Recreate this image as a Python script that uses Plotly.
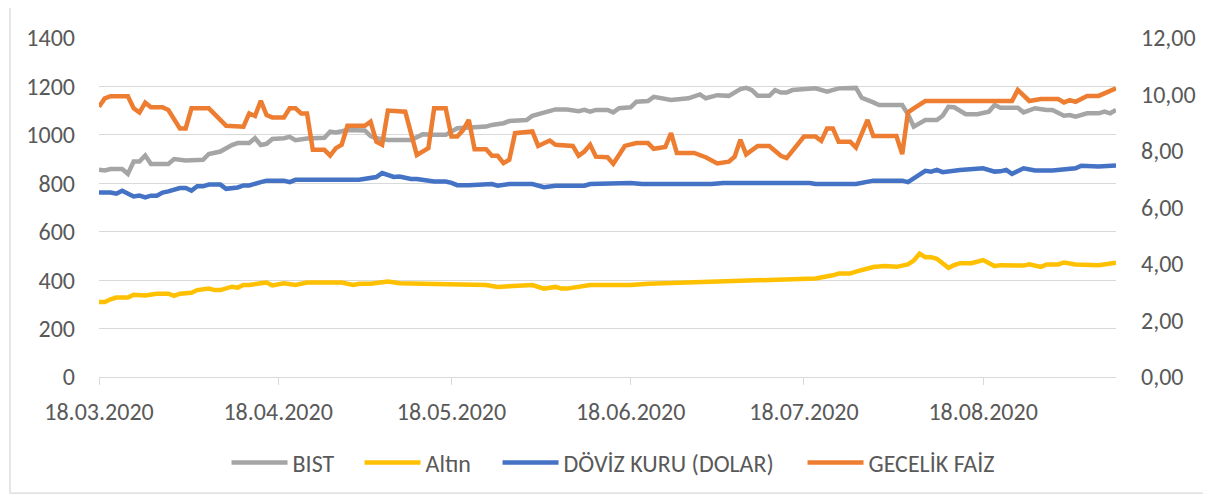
import pandas as pd
import plotly.graph_objects as go

YEAR = "2020"

# ---- BIST (left axis) ----
bist_dates = ["18.03","19.03","20.03","22.03","23.03","24.03","25.03","26.03","27.03","30.03","31.03",
              "02.04","05.04","06.04","08.04","10.04","11.04","13.04","14.04","15.04","16.04","17.04",
              "19.04","20.04","21.04","23.04","26.04","27.04","28.04","30.04",
              "03.05","04.05","05.05","07.05","11.05","12.05","13.05","15.05","17.05","19.05","24.05",
              "25.05","27.05","28.05","31.05",
              "01.06","03.06","05.06","07.06","09.06","10.06","11.06","12.06","14.06","15.06","16.06",
              "18.06","19.06","21.06","22.06","25.06","27.06","28.06","30.06",
              "01.07","03.07","05.07","07.07","08.07","09.07","10.07","12.07","13.07","14.07","15.07",
              "16.07","20.07","22.07","24.07","27.07","28.07","30.07","31.07",
              "04.08","05.08","06.08","08.08","10.08","11.08","12.08","13.08","15.08","17.08","19.08",
              "20.08","21.08","24.08","25.08","27.08","29.08","30.08",
              "01.09","02.09","03.09","05.09","07.09","08.09","09.09","10.09"]
bist_values = [856,853,859,859,839,890,890,915,880,880,900,
               894,897,921,931,958,966,966,986,958,963,983,
               986,992,978,985,988,1013,1010,1020,
               1018,995,986,979,979,993,1002,1000,1000,1027,1034,
               1041,1048,1057,1061,
               1079,1093,1105,1105,1098,1103,1096,1103,1103,1093,1110,
               1114,1137,1140,1157,1144,1151,1151,1167,
               1151,1164,1161,1189,1194,1185,1161,1161,1185,1175,1175,
               1185,1192,1178,1192,1194,1153,1134,1123,
               1123,1085,1034,1061,1061,1079,1116,1114,1085,1085,1096,
               1123,1112,1112,1093,1110,1103,1103,
               1079,1082,1075,1089,1089,1096,1089,1103]

# ---- Altın (left axis) ----
altin_dates = ["18.03","19.03","20.03","21.03","23.03","24.03","26.03","28.03","30.03","31.03",
               "01.04","03.04","04.04","06.04","07.04","08.04","10.04","11.04","12.04","13.04",
               "15.04","16.04","17.04","19.04","21.04","23.04","29.04",
               "01.05","02.05","04.05","07.05","09.05","13.05","18.05","19.05","24.05","26.05","29.05",
               "01.06","03.06","05.06","06.06","07.06","11.06","13.06","18.06","21.06","24.06","29.06",
               "01.07","02.07","06.07","09.07","14.07","17.07","20.07","23.07","24.07","26.07","27.07","30.07",
               "01.08","03.08","05.08","06.08","07.08","08.08","09.08","10.08","12.08","13.08","14.08",
               "16.08","18.08","20.08","21.08","25.08","26.08","28.08","29.08","31.08",
               "01.09","03.09","07.09","10.09"]
altin_values = [310,310,321,328,328,340,337,344,344,335,
                344,348,359,365,359,359,373,369,380,380,
                387,390,378,387,380,390,390,
                380,385,385,394,387,385,383,380,380,372,376,
                380,365,372,365,365,380,379,380,385,387,390,
                390,394,394,400,403,403,407,420,427,427,435,454,
                458,455,465,481,509,495,495,488,451,462,470,
                470,483,458,462,460,465,455,465,465,
                473,465,462,472]

# ---- Döviz kuru (right axis) ----
doviz_dates = ["18.03","20.03","21.03","22.03","24.03","25.03","26.03","27.03","28.03","29.03","30.03",
               "01.04","02.04","03.04","04.04","05.04","06.04","08.04","09.04","11.04","12.04","13.04",
               "15.04","16.04","19.04","20.04","21.04","22.04","24.04","27.04","30.04",
               "02.05","05.05","06.05","08.05","09.05","11.05","12.05","15.05","17.05","18.05","19.05",
               "21.05","23.05","25.05","26.05","28.05",
               "01.06","03.06","05.06","10.06","11.06","18.06","20.06",
               "02.07","04.07","19.07","20.07","27.07","30.07",
               "04.08","05.08","06.08","08.08","09.08","10.08","11.08","14.08","18.08","20.08","21.08",
               "22.08","23.08","25.08","27.08","30.08",
               "03.09","04.09","07.09","10.09"]
doviz_values = [6.53,6.53,6.49,6.59,6.39,6.42,6.36,6.42,6.42,6.53,6.57,
                6.69,6.69,6.60,6.75,6.75,6.81,6.81,6.66,6.71,6.78,6.78,
                6.90,6.95,6.95,6.90,6.98,6.98,6.96,6.98,6.95,
                6.98,7.08,7.22,7.08,7.10,7.01,7.01,6.92,6.92,6.87,6.79,
                6.79,6.83,6.83,6.77,6.83,
                6.83,6.72,6.77,6.77,6.83,6.87,6.83,
                6.83,6.87,6.87,6.83,6.83,6.95,
                6.95,6.90,7.02,7.30,7.27,7.33,7.25,7.33,7.39,7.27,7.28,
                7.33,7.19,7.39,7.31,7.31,
                7.39,7.48,7.45,7.49]

# ---- Gecelik faiz (right axis) ----
faiz_dates = ["18.03","19.03","20.03","23.03","24.03","25.03","26.03","27.03","29.03","30.03",
              "01.04","02.04","03.04","06.04","08.04","09.04","12.04","13.04","14.04","15.04","16.04",
              "17.04","19.04","20.04","21.04","22.04","23.04","24.04","26.04","27.04","28.04","29.04","30.04",
              "03.05","04.05","05.05","06.05","07.05","10.05","12.05","14.05","15.05","17.05","18.05",
              "19.05","20.05","21.05","22.05","24.05","25.05","26.05","27.05","28.05","29.05",
              "01.06","02.06","04.06","05.06","08.06","09.06","10.06","11.06","12.06","14.06","15.06",
              "16.06","17.06","19.06","21.06","22.06","24.06","25.06","26.06","29.06",
              "01.07","03.07","05.07","06.07","07.07","08.07","10.07","12.07","14.07","15.07","18.07",
              "20.07","21.07","22.07","23.07","24.07","26.07","27.07","29.07","30.07",
              "03.08","04.08","05.08","06.08","08.08","23.08","24.08","26.08","28.08","31.08",
              "01.09","02.09","03.09","05.09","07.09","08.09","10.09"]
faiz_values = [9.57,9.86,9.94,9.94,9.51,9.36,9.71,9.55,9.55,9.45,
               8.80,8.80,9.51,9.51,9.10,8.89,8.86,9.33,9.24,9.78,9.27,
               9.19,9.19,9.51,9.51,9.33,9.33,8.04,8.04,7.84,8.10,8.22,8.89,
               8.89,9.04,8.33,8.22,9.43,9.39,7.86,8.10,9.51,9.51,8.51,
               8.51,8.74,9.10,8.06,8.06,7.83,7.83,7.57,7.69,8.63,
               8.69,8.18,8.37,8.22,8.18,7.83,7.98,8.22,7.80,7.78,7.55,
               7.86,8.18,8.28,8.28,8.08,8.14,8.63,7.93,7.93,
               7.78,7.56,7.62,7.80,8.40,7.88,8.18,8.18,7.83,7.75,8.51,
               8.51,8.36,8.80,8.80,8.33,8.33,8.12,9.10,8.53,
               8.53,7.89,9.37,9.51,9.77,9.77,10.16,9.77,9.84,9.84,
               9.72,9.80,9.74,9.95,9.95,10.04,10.22]

x_tick_labels = ["18.03.2020","18.04.2020","18.05.2020","18.06.2020","18.07.2020","18.08.2020"]
left_ticks = [0,200,400,600,800,1000,1200,1400]
right_ticks = [0,2,4,6,8,10,12]

def to_dates(lst):
    return pd.to_datetime([d + "." + YEAR for d in lst], format="%d.%m.%Y")

FONT = "Calibri, Carlito, 'Open Sans', sans-serif"
TXT = "#595959"
GRID = "#D9D9D9"

fig = go.Figure()
fig.add_trace(go.Scatter(x=to_dates(bist_dates), y=bist_values, name="BIST", mode="lines",
                         line=dict(color="#A5A5A5", width=4.5), legendwidth=62))
fig.add_trace(go.Scatter(x=to_dates(altin_dates), y=altin_values, name="Altın", mode="lines",
                         line=dict(color="#FFC000", width=4.5), legendwidth=67))
fig.add_trace(go.Scatter(x=to_dates(doviz_dates), y=doviz_values, name="DÖVİZ KURU (DOLAR)", mode="lines",
                         line=dict(color="#4472C4", width=4.5), yaxis="y2", legendwidth=234))
fig.add_trace(go.Scatter(x=to_dates(faiz_dates), y=faiz_values, name="GECELİK FAİZ", mode="lines",
                         line=dict(color="#ED7D31", width=4.5), yaxis="y2", legendwidth=130))

# page body has an 8px margin: figure is 8px smaller and margins shifted to compensate
fig.update_layout(
    width=1203, height=488,
    margin=dict(l=91, r=95, t=30, b=118),
    paper_bgcolor="white", plot_bgcolor="white",
    font=dict(family=FONT, color=TXT, size=24),
    showlegend=True,
    legend=dict(orientation="h", x=0.5074, xanchor="center", y=-0.25, yanchor="middle",
                font=dict(size=24, color=TXT), itemwidth=56, traceorder="normal"),
    xaxis=dict(type="date", range=["2020-03-18", "2020-09-10"],
               tickvals=to_dates([t[:5] for t in x_tick_labels]), ticktext=x_tick_labels,
               showgrid=False, showline=True, linecolor=GRID, linewidth=1.3,
               ticks="outside", ticklen=7, tickcolor=GRID, tickwidth=1.3,
               ticklabelstandoff=6, zeroline=False, automargin=False),
    yaxis=dict(range=[0, 1400], tickvals=left_ticks, ticktext=[str(v) for v in left_ticks],
               showgrid=True, gridcolor=GRID, gridwidth=1.3, zeroline=False,
               ticks="", ticklabelstandoff=23, automargin=False),
    yaxis2=dict(range=[0, 12], tickvals=right_ticks,
                ticktext=[f"{v:.2f}".replace(".", ",") for v in right_ticks],
                overlaying="y", side="right", showgrid=False, zeroline=False,
                ticks="", ticklabelstandoff=24, automargin=False),
    shapes=[dict(type="rect", xref="paper", yref="paper",
                 x0=(2 - 91) / 1017, x1=(1201.5 - 91) / 1017,
                 y0=-(486.5 - 370) / 340, y1=(370 + 7) / 340,
                 line=dict(color=GRID, width=1.3), layer="below")],
)

fig.write_html("out.html")
